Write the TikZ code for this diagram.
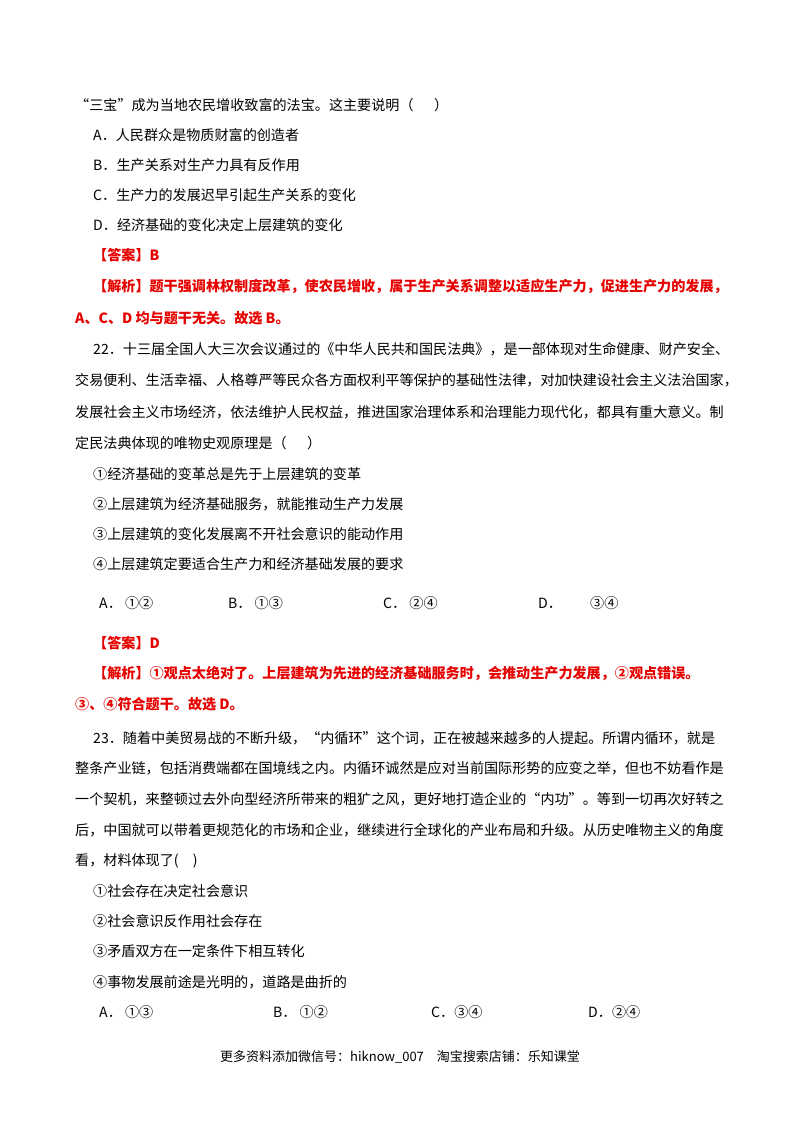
\documentclass[tikz,border=0pt]{standalone}
\usepackage{fontspec}
\setmainfont{Noto Sans CJK SC}
\definecolor{ans}{RGB}{230,0,0}
\begin{document}
\begin{tikzpicture}[x=1pt,y=-1pt,
  t/.style={anchor=west,inner sep=0pt,font=\fontsize{14.1}{16}\selectfont},
  r/.style={t,text=ans,font=\fontsize{14.1}{16}\selectfont\bfseries}]
\useasboundingbox (0,0) rectangle (800,1132);
\node[t] (l1) at (75,105) {“三宝”成为当地农民增收致富的法宝。这主要说明（\quad\ \ ）};
\node[t] (l2) at (93,135) {A．人民群众是物质财富的创造者};
\node[t] (l3) at (93,165) {B．生产关系对生产力具有反作用};
\node[t] (l4) at (93,195) {C．生产力的发展迟早引起生产关系的变化};
\node[t] (l5) at (93,225) {D．经济基础的变化决定上层建筑的变化};
\node[r] (l6) at (93,255) {【答案】B};
\node[r] (l7) at (93,286) {【解析】题干强调林权制度改革，使农民增收，属于生产关系调整以适应生产力，促进生产力的发展，};
\node[r] (l8) at (75,318) {A、C、D 均与题干无关。故选 B。};
\node[t] (l9) at (93,349) {22．十三届全国人大三次会议通过的《中华人民共和国民法典》，是一部体现对生命健康、财产安全、};
\node[t] (l10) at (75,380) {交易便利、生活幸福、人格尊严等民众各方面权利平等保护的基础性法律，对加快建设社会主义法治国家，};
\node[t] (l11) at (75,412) {发展社会主义市场经济，依法维护人民权益，推进国家治理体系和治理能力现代化，都具有重大意义。制};
\node[t] (l12) at (75,443) {定民法典体现的唯物史观原理是（\quad\ \ ）};
\node[t] (l13) at (93,474) {①经济基础的变革总是先于上层建筑的变革};
\node[t] (l14) at (93,504) {②上层建筑为经济基础服务，就能推动生产力发展};
\node[t] (l15) at (93,534) {③上层建筑的变化发展离不开社会意识的能动作用};
\node[t] (l16) at (93,564) {④上层建筑定要适合生产力和经济基础发展的要求};
\node[t] (a1) at (99,603) {A．\ ①②};
\node[t] (a2) at (228,603) {B．\ ①③};
\node[t] (a3) at (383,603) {C．\ ②④};
\node[t] (a4) at (538,603) {D．\qquad ③④};
\node[r] (l17) at (93,643) {【答案】D};
\node[r] (l18) at (93,673) {【解析】①观点太绝对了。上层建筑为先进的经济基础服务时，会推动生产力发展，②观点错误。};
\node[r] (l19) at (75,704) {③、④符合题干。故选 D。};
\node[t] (l20) at (93,738) {23．随着中美贸易战的不断升级，“内循环”这个词，正在被越来越多的人提起。所谓内循环，就是};
\node[t] (l21) at (75,768) {整条产业链，包括消费端都在国境线之内。内循环诚然是应对当前国际形势的应变之举，但也不妨看作是};
\node[t] (l22) at (75,799) {一个契机，来整顿过去外向型经济所带来的粗犷之风，更好地打造企业的“内功”。等到一切再次好转之};
\node[t] (l23) at (75,830) {后，中国就可以带着更规范化的市场和企业，继续进行全球化的产业布局和升级。从历史唯物主义的角度};
\node[t] (l24) at (75,861) {看，材料体现了(\quad )};
\node[t] (l25) at (93,891) {①社会存在决定社会意识};
\node[t] (l26) at (93,921) {②社会意识反作用社会存在};
\node[t] (l27) at (93,951) {③矛盾双方在一定条件下相互转化};
\node[t] (l28) at (93,982) {④事物发展前途是光明的，道路是曲折的};
\node[t] (b1) at (99,1012) {A．\ ①③};
\node[t] (b2) at (273,1012) {B．\ ①②};
\node[t] (b3) at (431,1012) {C．③④};
\node[t] (b4) at (588,1012) {D．②④};
\node[t,font=\fontsize{13}{15}\selectfont] (f) at (220,1057) {更多资料添加微信号：hiknow\_007\quad 淘宝搜索店铺：乐知课堂};
\end{tikzpicture}
\end{document}
